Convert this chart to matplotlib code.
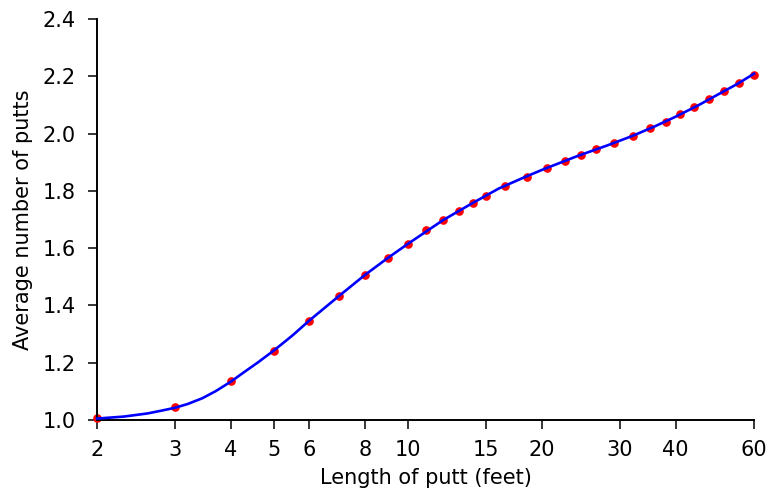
import numpy as np
import matplotlib
matplotlib.use('Agg')
import matplotlib.pyplot as plt
from matplotlib.ticker import FixedLocator, NullLocator

# Datos: longitud del putt (pies) y número medio de putts
distancias = [2, 3, 4, 5, 6, 7, 8, 9, 10, 11, 12, 13, 14, 15, 16.5, 18.5, 20.5, 22.5, 24.5, 26.5,
              29, 32, 35, 38, 41, 44, 47.5, 51.5, 55.5, 60]
media_putts = [1.007, 1.044, 1.135, 1.242, 1.347, 1.433, 1.506, 1.565, 1.615, 1.664, 1.699, 1.730,
               1.759, 1.783, 1.817, 1.850, 1.879, 1.903, 1.926, 1.946, 1.967, 1.992, 2.018, 2.042,
               2.067, 2.092, 2.120, 2.149, 2.176, 2.206]

# Curva ajustada
curva_x = [2, 2.3, 2.6, 2.8, 3, 3.2, 3.45, 3.7, 4, 4.3, 4.6, 5, 5.5, 6, 7, 8, 9, 10, 12, 14, 16,
           18, 20, 24, 28, 32, 36, 40, 45, 50, 55, 60]
curva_y = [1.005, 1.012, 1.023, 1.033, 1.043, 1.056, 1.076, 1.101, 1.134, 1.169, 1.201, 1.243,
           1.295, 1.347, 1.433, 1.506, 1.565, 1.615, 1.698, 1.758, 1.808, 1.843, 1.873, 1.921,
           1.958, 1.992, 2.026, 2.059, 2.099, 2.138, 2.173, 2.209]

ticks_x = [2, 3, 4, 5, 6, 8, 10, 15, 20, 30, 40, 60]
ticks_y = [1.0, 1.2, 1.4, 1.6, 1.8, 2.0, 2.2, 2.4]

plt.rcParams['font.family'] = ['DejaVu Sans']
plt.rcParams['font.size'] = 15

fig = plt.figure(figsize=(7.73, 4.94), dpi=100)
ax = fig.add_axes([0.1255, 0.1498, 0.8499, 0.8117])

ax.plot(distancias, media_putts, 'o', color='red', markersize=5.2, zorder=2, clip_on=False)
ax.plot(curva_x, curva_y, '-', color='blue', linewidth=1.9, zorder=3, clip_on=False,
        solid_joinstyle='round')

ax.set_xscale('log')
ax.set_xlim(2, 60)
ax.set_ylim(1.0, 2.4)
ax.xaxis.set_major_locator(FixedLocator(ticks_x))
ax.xaxis.set_minor_locator(NullLocator())
ax.set_xticklabels([str(t) for t in ticks_x])
ax.set_yticks(ticks_y)
ax.set_yticklabels(['%.1f' % t for t in ticks_y])

# Ejes estilo "abierto"
ax.spines['top'].set_visible(False)
ax.spines['right'].set_visible(False)
ax.spines['left'].set_linewidth(1.4)
ax.spines['bottom'].set_linewidth(1.4)
ax.tick_params(direction='out', length=6.5, width=1.1)
ax.tick_params(axis='x', pad=8)
ax.tick_params(axis='y', pad=9)

ax.set_xlabel('Length of putt (feet)', labelpad=6)
ax.set_ylabel('Average number of putts', labelpad=7)

plt.savefig('out.png', dpi=100)
